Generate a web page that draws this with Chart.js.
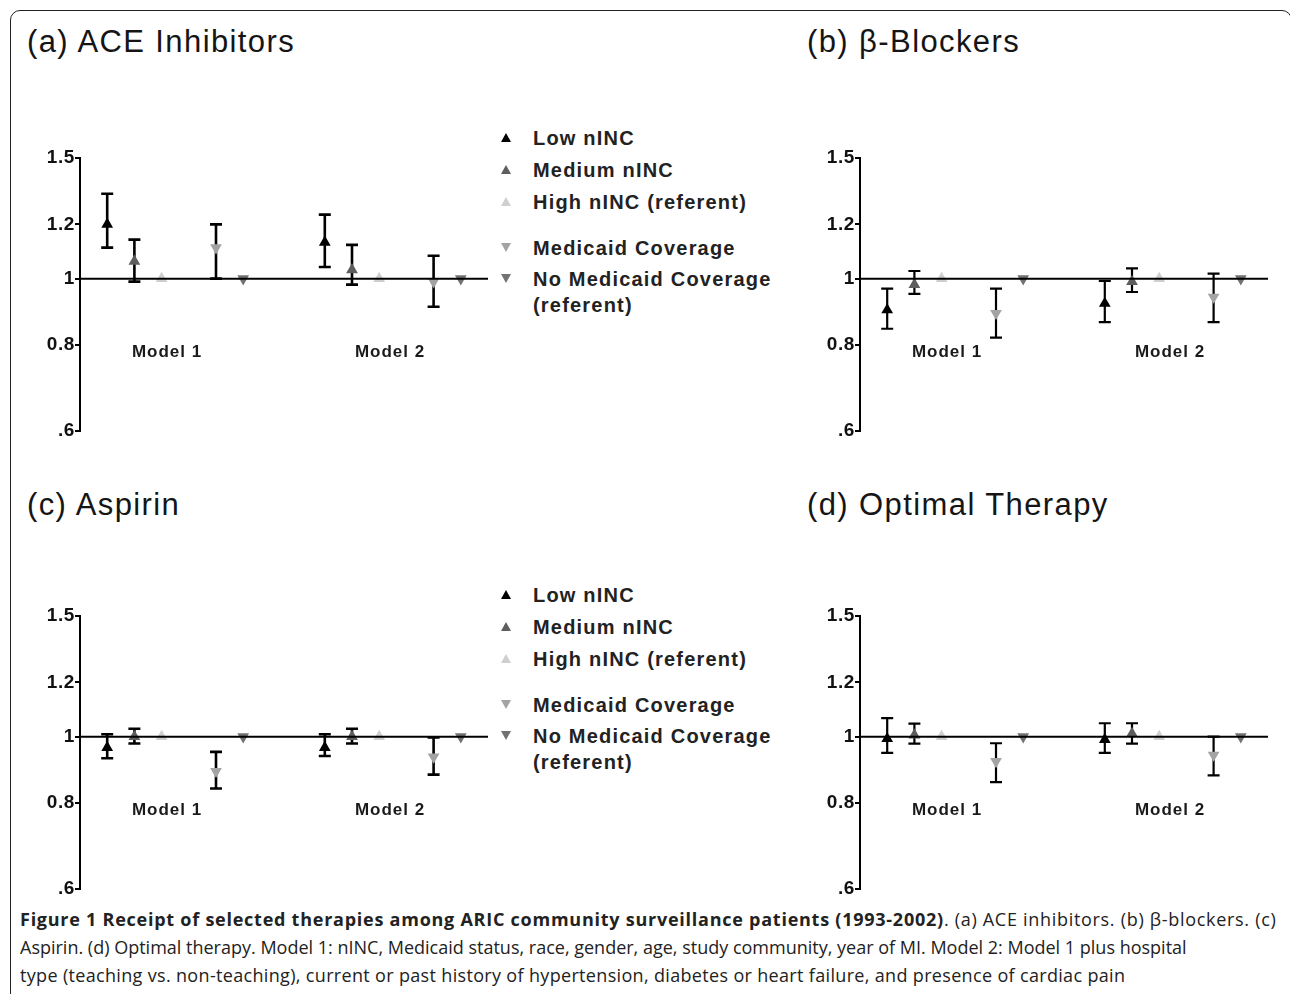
<!DOCTYPE html>
<html>
<head>
<meta charset="utf-8">
<script src="https://cdn.jsdelivr.net/npm/chart.js@4.4.1/dist/chart.umd.min.js"></script>
<style>
  html, body { margin:0; padding:0; background:#fff; width:1290px; height:994px; overflow:hidden; }
  body { position:relative; font-family:"Liberation Sans", Arial, Helvetica, sans-serif; }
  .frame { position:absolute; left:10px; top:10px; width:1282px; height:1100px; box-sizing:border-box;
           border:1px solid #222; border-radius:10px; }
  .title { position:absolute; font-size:31px; color:#151515; letter-spacing:1.4px; line-height:1; white-space:nowrap; }
  canvas { position:absolute; }
  .legend { position:absolute; font-weight:bold; font-size:20px; letter-spacing:1.2px; color:#222; }
  .legend .row { position:absolute; left:0; white-space:nowrap; height:24px; line-height:24px; }
  .legend .mk { position:absolute; left:1px; top:7px; width:0; height:0; }
  .legend .txt { position:absolute; left:33px; top:0; }
  .caption { position:absolute; left:20px; top:905px; font-family:"Open Sans", sans-serif; font-size:18px; color:#222; line-height:28px; }
  .caption div { white-space:nowrap; }
  .caption b { letter-spacing:0.75px; }
  .caption .l1r { letter-spacing:0.7px; }
  .caption .l3 { letter-spacing:0.33px; }
</style>
</head>
<body>
<div class="frame"></div>

<div class="title" style="left:27px; top:26px;">(a) ACE Inhibitors</div>
<div class="title" style="left:807px; top:26px;">(b) β-Blockers</div>
<div class="title" style="left:27px; top:489px;">(c) Aspirin</div>
<div class="title" style="left:807px; top:489px;">(d) Optimal Therapy</div>

<canvas id="cA" width="475" height="302" style="left:20px; top:140px;"></canvas>
<canvas id="cB" width="475" height="302" style="left:800px; top:140px;"></canvas>
<canvas id="cC" width="475" height="302" style="left:20px; top:598px;"></canvas>
<canvas id="cD" width="475" height="302" style="left:800px; top:598px;"></canvas>

<div id="legA" class="legend" style="left:500px; top:126px;"></div>
<div id="legC" class="legend" style="left:500px; top:583px;"></div>

<div class="caption">
  <div><b>Figure 1 Receipt of selected therapies among ARIC community surveillance patients (1993-2002)</b><span class="l1r">. (a) ACE inhibitors. (b) β-blockers. (c)</span></div>
  <div>Aspirin. (d) Optimal therapy. Model 1: nINC, Medicaid status, race, gender, age, study community, year of MI. Model 2: Model 1 plus hospital</div>
  <div class="l3">type (teaching vs. non-teaching), current or past history of hypertension, diabetes or heart failure, and presence of cardiac pain</div>
</div>

<script>
// ---------------- DATA ----------------
const models = ['Model 1', 'Model 2'];
const seriesNames = ['Low nINC', 'Medium nINC', 'High nINC (referent)', 'Medicaid Coverage', 'No Medicaid Coverage (referent)'];
const yTicks = [0.6, 0.8, 1, 1.2, 1.5];
const yTickLabels = ['.6', '0.8', '1', '1.2', '1.5'];

// each inner array: [Model 1, Model 2]; order follows seriesNames
const aceEst   = [[1.20, 1.13], [1.06, 1.03], [1, 1], [1.11, 0.99], [1, 1]];
const aceLower = [[1.11, 1.04], [0.99, 0.98], [null, null], [1.00, 0.91], [null, null]];
const aceUpper = [[1.33, 1.24], [1.14, 1.12], [null, null], [1.20, 1.08], [null, null]];

const betaEst   = [[0.90, 0.92], [0.98, 0.99], [1, 1], [0.89, 0.94], [1, 1]];
const betaLower = [[0.845, 0.864], [0.95, 0.956], [null, null], [0.82, 0.864], [null, null]];
const betaUpper = [[0.967, 0.992], [1.026, 1.035], [null, null], [0.967, 1.017], [null, null]];

const aspEst   = [[0.964, 0.964], [1.0, 1.0], [1, 1], [0.89, 0.934], [1, 1]];
const aspLower = [[0.93, 0.937], [0.977, 0.977], [null, null], [0.84, 0.88], [null, null]];
const aspUpper = [[1.008, 1.008], [1.027, 1.027], [null, null], [0.95, 0.997], [null, null]];

const optEst   = [[0.993, 0.99], [1.005, 1.01], [1, 1], [0.92, 0.94], [1, 1]];
const optLower = [[0.947, 0.947], [0.977, 0.977], [null, null], [0.858, 0.878], [null, null]];
const optUpper = [[1.064, 1.046], [1.045, 1.046], [null, null], [0.978, 1.0], [null, null]];

// ---------------- STYLE / LAYOUT ----------------
const seriesColors = ['#000000', '#5e5e5e', '#cfcfcf', '#a3a3a3', '#727272'];
const seriesDown = [false, false, false, true, true];
const slotInGroup = [0, 1, 2, 4, 5];
const groupStart = [1, 9];
const modelLabelX = [3.2, 11.4];
const modelLabelY = 0.78;

const fontFamily = '"Liberation Sans", Arial, Helvetica, sans-serif';

const errorBarPlugin = {
  id: 'errorBars',
  beforeDraw(chart) {
    if ('letterSpacing' in chart.ctx) chart.ctx.letterSpacing = '0.6px';
  },
  beforeDatasetsDraw(chart, args, opts) {
    const ctx = chart.ctx, xs = chart.scales.x, ys = chart.scales.y;
    ctx.save();
    ctx.strokeStyle = '#000';
    ctx.lineWidth = opts.width;
    ctx.lineCap = 'butt';
    opts.lower.forEach((arr, si) => {
      arr.forEach((lo, mi) => {
        const hi = opts.upper[si][mi];
        if (lo == null || hi == null) return;
        const x = xs.getPixelForValue(groupStart[mi] + slotInGroup[si]);
        const yl = ys.getPixelForValue(lo), yh = ys.getPixelForValue(hi);
        const c = opts.cap;
        ctx.beginPath();
        ctx.moveTo(x, yl); ctx.lineTo(x, yh);
        ctx.moveTo(x - c, yl); ctx.lineTo(x + c, yl);
        ctx.moveTo(x - c, yh); ctx.lineTo(x + c, yh);
        ctx.stroke();
      });
    });
    ctx.restore();
  },
  afterDatasetsDraw(chart) {
    const ctx = chart.ctx, xs = chart.scales.x, ys = chart.scales.y, ca = chart.chartArea;
    ctx.save();
    const y1 = ys.getPixelForValue(1);
    ctx.strokeStyle = '#000'; ctx.lineWidth = 2;
    ctx.beginPath(); ctx.moveTo(ca.left, y1); ctx.lineTo(xs.getPixelForValue(15), y1); ctx.stroke();
    ctx.fillStyle = '#1a1a1a';
    ctx.font = 'bold 17px ' + fontFamily;
    if ('letterSpacing' in ctx) ctx.letterSpacing = '1px';
    ctx.textAlign = 'center'; ctx.textBaseline = 'middle';
    models.forEach((m, i) => {
      ctx.fillText(m, xs.getPixelForValue(modelLabelX[i]), ys.getPixelForValue(modelLabelY));
    });
    ctx.restore();
  }
};

function makePanel(id, est, lower, upper, barWidth) {
  const datasets = seriesNames.map((name, si) => ({
    label: name,
    data: est[si].map((v, mi) => ({ x: groupStart[mi] + slotInGroup[si], y: v })),
    pointStyle: 'triangle',
    rotation: seriesDown[si] ? 180 : 0,
    pointRadius: 6.8,
    backgroundColor: seriesColors[si],
    borderColor: seriesColors[si],
    borderWidth: 0,
    showLine: false
  }));
  return new Chart(document.getElementById(id), {
    type: 'scatter',
    data: { datasets },
    plugins: [errorBarPlugin],
    options: {
      responsive: false,
      animation: false,
      events: [],
      layout: { padding: { top: 18, bottom: 10, left: 0, right: 7 } },
      plugins: {
        legend: { display: false },
        tooltip: { enabled: false },
        errorBars: { lower, upper, width: barWidth, cap: 6 }
      },
      scales: {
        x: { type: 'linear', min: 0, max: 15, display: false },
        y: {
          type: 'logarithmic', min: 0.6, max: 1.5,
          afterBuildTicks: s => { s.ticks = yTicks.map(v => ({ value: v })); },
          afterFit: s => { s.width = 60; },
          border: { display: true, color: '#000', width: 2 },
          grid: { display: true, drawOnChartArea: false, drawTicks: true, tickLength: 5, color: '#000', lineWidth: 2 },
          ticks: {
            padding: 0,
            color: '#111',
            font: { family: fontFamily, size: 19, weight: 'bold' },
            callback: v => { const i = yTicks.indexOf(v); return i >= 0 ? yTickLabels[i] : ''; }
          }
        }
      }
    }
  });
}

makePanel('cA', aceEst, aceLower, aceUpper, 2.6);
makePanel('cB', betaEst, betaLower, betaUpper, 2.2);
makePanel('cC', aspEst, aspLower, aspUpper, 2.6);
makePanel('cD', optEst, optLower, optUpper, 2.2);

// ---------------- LEGENDS ----------------
const legendRowY = [0, 32, 64, 110, 141];
function buildLegend(id) {
  const el = document.getElementById(id);
  seriesNames.forEach((name, si) => {
    const row = document.createElement('div');
    row.className = 'row';
    row.style.top = legendRowY[si] + 'px';
    const mk = document.createElement('div');
    mk.className = 'mk';
    const c = seriesColors[si];
    mk.style.borderLeft = '5px solid transparent';
    mk.style.borderRight = '5px solid transparent';
    if (seriesDown[si]) mk.style.borderTop = '9px solid ' + c;
    else mk.style.borderBottom = '9px solid ' + c;
    row.appendChild(mk);
    const txt = document.createElement('div');
    txt.className = 'txt';
    if (si === 4) {
      txt.innerHTML = 'No Medicaid Coverage<br>(referent)';
      txt.style.lineHeight = '26px';
      txt.style.top = '-1px';
    } else {
      txt.textContent = name;
    }
    row.appendChild(txt);
    el.appendChild(row);
  });
}
buildLegend('legA');
buildLegend('legC');
</script>
</body>
</html>
